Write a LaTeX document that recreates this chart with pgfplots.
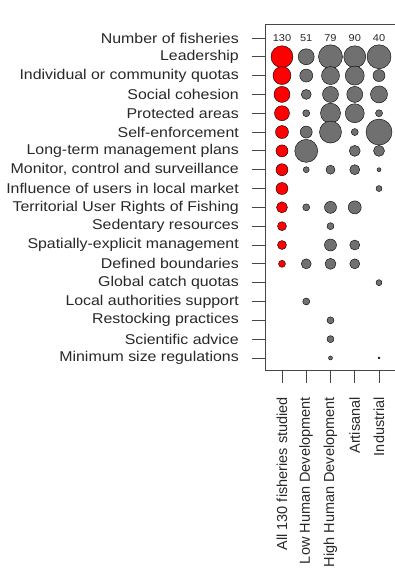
\documentclass[border=0pt]{standalone}
\usepackage{pgfplots}
\pgfplotsset{compat=1.18}
\usepackage{pgfplotstable}
\usepackage{fontspec}
\setmainfont{Liberation Sans}
\newfontfamily\ylabfont[FakeStretch=1.12]{Liberation Sans}
\newfontfamily\numfont[FakeStretch=1.1]{Liberation Sans}
\definecolor{dotgray}{RGB}{112,112,112}
\definecolor{axgray}{RGB}{70,70,70}
\definecolor{txt}{RGB}{40,40,40}

\pgfplotstableread{
x y d
1 17 23
1 16 19
1 15 17
1 14 16
1 13 14
1 12 13
1 11 13
1 10 13
1 9 12
1 8 10
1 7 10
1 6 8
}\redtab

\pgfplotstableread{
x y d
2 17 17
3 17 25
4 17 23
5 17 25
2 16 14
3 16 19
4 16 20
5 16 13
2 15 11
3 15 17
4 15 17
5 15 18
2 14 8
3 14 21
4 14 20
5 14 8
2 13 13
3 13 23
4 13 8
5 13 27
2 12 24
4 12 12
5 12 12
2 11 7
3 11 10
4 11 11
5 11 5
5 10 7
2 9 8
3 9 13
4 9 14
3 8 8
3 7 13
4 7 11
2 6 11
3 6 12
4 6 11
5 5 7
2 4 8
3 3 8
3 2 8
3 1 5
5 1 3
}\graytab

\begin{document}
\begin{tikzpicture}
\useasboundingbox (0,0) rectangle (395pt,581pt);
\begin{axis}[
  at={(265pt,211pt)}, anchor=south west,
  scale only axis, width=131pt, height=346pt,
  xmin=0.3, xmax=5.7, ymin=0.36, ymax=18.74,
  axis line style={axgray, line width=0.8pt},
  every tick/.style={axgray, line width=0.8pt},
  tick align=outside, major tick length=13pt,
  xtick pos=lower, ytick pos=lower,
  xtick={1,2,3,4,5},
  xticklabels={All 130 fisheries studied, Low Human Development, High Human Development, Artisanal, Industrial},
  xticklabel style={rotate=90, anchor=east, font=\fontsize{14.5}{16}\selectfont, text=txt, inner sep=0pt, xshift=-14pt},
  ytick={1,...,18},
  yticklabels={Minimum size regulations, Scientific advice, Restocking practices, Local authorities support, Global catch quotas, Defined boundaries, Spatially-explicit management, Sedentary resources, Territorial User Rights of Fishing, Influence of users in local market, {Monitor, control and surveillance}, Long-term management plans, Self-enforcement, Protected areas, Social cohesion, Individual or community quotas, Leadership, Number of fisheries},
  yticklabel style={anchor=east, font=\ylabfont\fontsize{14.2}{16}\selectfont, text=txt, inner sep=0pt, xshift=-13pt},
  clip=false,
]
\addplot[scatter, only marks, mark=*,
  scatter/use mapped color={draw=none, fill=red},
  visualization depends on={(\thisrow{d}-1)/2 \as \rad},
  scatter/@pre marker code/.append style={/tikz/mark size=\rad}]
  table[x=x, y=y] {\redtab};
\addplot[scatter, only marks, mark=*,
  scatter/use mapped color={draw=none, fill=dotgray},
  visualization depends on={(\thisrow{d}-1)/2 \as \rad},
  scatter/@pre marker code/.append style={/tikz/mark size=\rad}]
  table[x=x, y=y] {\graytab};
\addplot[only marks, mark=none, nodes near coords, point meta=explicit symbolic,
  nodes near coords align=center,
  every node near coord/.style={font=\numfont\fontsize{10}{11}\selectfont, text=txt, anchor=center}]
  coordinates {(1,18) [130] (2,18) [51] (3,18) [79] (4,18) [90] (5,18) [40]};
\end{axis}
\end{tikzpicture}
\end{document}
